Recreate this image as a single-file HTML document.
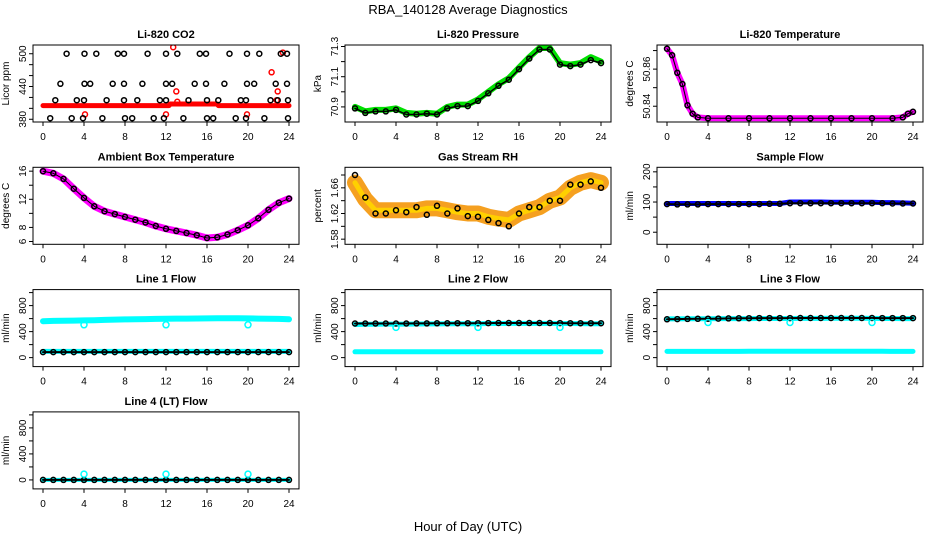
<!DOCTYPE html>
<html><head><meta charset="utf-8">
<style>
html,body{margin:0;padding:0;background:#fff;}
svg{display:block;font-family:"Liberation Sans",Arial,sans-serif;}
</style></head>
<body>
<svg id="chart" width="936" height="540" viewBox="0 0 936 540" xmlns="http://www.w3.org/2000/svg">
<rect x="0" y="0" width="936" height="540" fill="#fff"/>
<text x="468" y="14" font-size="13" text-anchor="middle">RBA_140128  Average Diagnostics</text>
<text x="468" y="531" font-size="13" text-anchor="middle">Hour of Day (UTC)</text>
</svg>
<script>
// ---------- data ----------
const hours = [0,1,2,3,4,5,6,7,8,9,10,11,12,13,14,15,16,17,18,19,20,21,22,23,24];
const xTicks = [0,4,8,12,16,20,24];
const xTickLabels = ["0","4","8","12","16","20","24"];

// CO2
const co2BlackHours = [2.3,4.05,5.2,7.3,7.9,10.2,12.0,13.1,15.3,15.9,18.2,19.9,21.1,23.2,23.8,
  1.7,4.05,4.6,6.8,7.9,9.7,12.0,12.6,14.8,15.9,17.7,19.9,20.6,22.7,23.8,
  1.2,3.3,4.0,6.2,7.9,9.2,11.4,12.0,14.2,16.0,17.1,19.3,19.8,22.2,22.9,23.9,
  0.7,2.8,3.9,5.8,8.0,8.7,10.8,11.8,13.7,16.0,16.6,18.8,19.8,21.6,23.9];
const co2BlackVals = [500,500,500,500,500,500,500,500,500,500,500,500,500,500,500,
  445,445,445,445,445,445,445,445,445,445,445,445,445,445,445,
  415,415,415,415,415,415,415,415,415,415,415,415,415,415,415,415,
  382,382,382,382,382,382,382,382,382,382,382,382,382,382,382];
const co2BandHours = [0,12.3,12.4,17,17.1,24];
const co2BandVals = [405,405,408,408,405,405];
const co2RedHours = [4.1,12.0,12.7,13.0,13.1,19.9,22.3,22.9,22.8,23.4];
const co2RedVals = [389,389,512,431,412,389,466,431,415,502];
const co2Ticks = [380,400,420,440,460,480,500];
const co2Labels = ["380","","","440","","","500"];

// Pressure
const presVals = [70.90,70.87,70.88,70.88,70.89,70.86,70.855,70.86,70.855,70.90,70.915,70.915,70.95,71.0,71.05,71.09,71.16,71.23,71.29,71.29,71.19,71.18,71.19,71.23,71.20];
const presBlack = [70.89,70.86,70.87,70.87,70.88,70.85,70.85,70.855,70.85,70.89,70.905,70.905,70.94,70.99,71.04,71.08,71.15,71.22,71.28,71.28,71.18,71.17,71.18,71.21,71.19];
const presTicks = [70.9,71.0,71.1,71.2,71.3];
const presLabels = ["70.9","","71.1","","71.3"];

// Li-820 temperature
const ltHours = [0,0.5,1,1.5,2,2.5,3,4,6,8,10,12,14,16,18,20,22,23,23.5,24];
const ltVals = [50.871,50.8675,50.858,50.852,50.8405,50.836,50.834,50.8335,50.8335,50.8335,50.8335,50.8335,50.8335,50.8335,50.8335,50.8335,50.8335,50.834,50.836,50.837];
const ltTicks = [50.84,50.85,50.86,50.87];
const ltLabels = ["50.84","","50.86",""];

// Ambient box temperature
const ambVals = [16.0,15.7,14.9,13.5,12.2,11.0,10.3,9.9,9.5,9.1,8.7,8.2,7.8,7.5,7.2,6.9,6.5,6.6,7.0,7.6,8.3,9.3,10.5,11.5,12.1];
const ambTicks = [6,8,10,12,14,16];
const ambLabels = ["6","8","","12","","16"];

// Gas stream RH
const rhVals = [1.668,1.642,1.625,1.625,1.625,1.625,1.625,1.628,1.628,1.625,1.622,1.62,1.62,1.615,1.612,1.61,1.62,1.625,1.63,1.64,1.645,1.66,1.668,1.672,1.668];
const rhBlack = [1.68,1.645,1.62,1.62,1.625,1.622,1.63,1.618,1.632,1.62,1.628,1.616,1.615,1.61,1.605,1.6,1.62,1.63,1.63,1.64,1.64,1.665,1.665,1.67,1.66];
const rhTicks = [1.58,1.60,1.62,1.64,1.66,1.68];
const rhLabels = ["1.58","","1.62","","1.66",""];

// Sample flow
const sfBlue = [95,95,95,95,95,95,95,95,95,95,95,95,100,100,100,100,99,99,99,99,99,98,98,97,96];
const sfBlack = [93,92,92,92,93,93,93,93,93,93,94,94,96,96,96,96,96,96,96,96,96,96,95,95,95];
const sfTicks = [0,50,100,150,200];
const sfLabels = ["0","","100","","200"];

// Line flows
const flowTicks = [0,200,400,600,800,1000];
const flowLabels = ["0","","400","","800",""];
const outlierHours = [4,12,20];
const l1High = [560,565,568,570,572,575,580,585,588,590,592,595,598,600,600,602,603,605,606,605,603,600,598,595,590];
const l1Low = [95,95,95,95,95,95,95,95,95,95,95,95,95,95,95,95,95,95,95,95,95,95,95,95,95];
const l1Black = [85,85,85,85,85,85,85,85,85,85,85,85,85,85,85,85,85,85,85,85,85,85,85,85,85];
const l1Out = [505,505,505];
const l2High = [510,512,514,515,515,516,517,518,518,520,520,522,522,524,525,526,526,527,527,526,525,524,523,522,520];
const l2Low = [90,90,90,90,90,90,90,90,90,90,90,90,90,90,90,90,90,90,90,90,90,90,90,90,90];
const l2Black = [525,525,525,525,525,525,526,527,528,528,529,530,530,531,532,533,533,533,532,532,531,530,530,530,530];
const l2Out = [465,465,465];
const l3High = [595,596,597,598,598,600,600,600,600,601,601,602,602,603,603,603,604,605,605,604,603,602,602,600,600];
const l3Low = [95,95,95,95,95,95,95,95,98,98,98,98,98,98,98,98,98,98,98,98,98,98,95,95,95];
const l3Black = [590,592,595,597,598,600,603,605,606,607,608,608,608,609,609,610,610,610,610,609,609,608,608,608,608];
const l3Out = [540,540,540];
const l4Cyan = [0,0,0,0,0,0,0,0,0,0,0,0,0,0,0,0,0,0,0,0,0,0,0,0,0];
const l4Black = [0,0,0,0,0,0,0,0,0,0,0,0,0,0,0,0,0,0,0,0,0,0,0,0,0];
const l4Out = [90,90,90];

// ---------- drawing ----------
const NS = "http://www.w3.org/2000/svg";
const svg = document.getElementById("chart");
let clipId = 0;
function mk(tag, attrs, parent){
  const e = document.createElementNS(NS, tag);
  for (const k in attrs) e.setAttribute(k, attrs[k]);
  parent.appendChild(e);
  return e;
}

function panel(col, row, key, title, ylab, domain, yTicks, yLabels, layers){
  const x0 = 33 + 312*col, x1 = x0 + 266;
  const y0 = 45 + 122.3*row, y1 = y0 + 77;
  const g = mk("g", {}, svg);
  
  
  const xs = h => x0 + 10 + h*246/24;
  const ys = v => y1 - (v - domain[0])/(domain[1]-domain[0])*(y1-y0);

  const t = mk("text", {x:(x0+x1)/2, y:y0-7, "font-size":11, "font-weight":"bold", "text-anchor":"middle"}, g);
  
  
  t.textContent = title;

  const yl = mk("text", {x:0, y:0, "font-size":10, "text-anchor":"middle", transform:`translate(${x0-24},${(y0+y1)/2}) rotate(-90)`}, g);
  
  
  yl.textContent = ylab;

  // clip
  clipId++;
  const cp = mk("clipPath", {id:"c"+clipId}, g);
  mk("rect", {x:x0, y:y0, width:x1-x0, height:y1-y0}, cp);
  const plot = mk("g", {"clip-path":`url(#c${clipId})`}, g);
  
  

  layers.forEach(L => {
    if (L.type === "band" || L.type === "line"){
      const pts = L.xs.map((h,i) => xs(h).toFixed(1)+","+ys(L.ys[i]).toFixed(1)).join(" ");
      const pl = mk("polyline", {points:pts, fill:"none", stroke:L.color, "stroke-width":L.width, "stroke-linejoin":"round", "stroke-linecap":"round"}, plot);
      
      
    }
    if (L.type === "pts" || L.type === "line"){
      L.xs.forEach((h,i) => {
        const c = mk("circle", {cx:xs(h).toFixed(1), cy:ys(L.ys[i]).toFixed(1), r:L.r||2.5, fill:"none", stroke:L.ptColor||L.color, "stroke-width":1.5}, plot);
        
        
      });
    }
  });

  const box = mk("rect", {x:x0, y:y0, width:x1-x0, height:y1-y0, fill:"none", stroke:"#000", "stroke-width":1}, g);
  
  

  // x axis
  xTicks.forEach((h,i) => {
    mk("line", {x1:xs(h), x2:xs(h), y1:y1, y2:y1+4, stroke:"#000"}, g);
    const lb = mk("text", {x:xs(h), y:y1+18, "font-size":10, "text-anchor":"middle"}, g);
    
    
    lb.textContent = xTickLabels[i];
  });
  // y axis
  yTicks.forEach((v,i) => {
    const y = ys(v);
    if (y < y0-0.5 || y > y1+0.5) return;
    mk("line", {x1:x0-4, x2:x0, y1:y, y2:y, stroke:"#000"}, g);
    if (yLabels[i]){
      const lb = mk("text", {x:0, y:0, "font-size":10, "text-anchor":"middle", transform:`translate(${x0-7},${y}) rotate(-90)`}, g);
      
      
      lb.textContent = yLabels[i];
    }
  });
}

panel(0,0,"co2","Li-820 CO2","Licor ppm",[375,516],co2Ticks,co2Labels,[
  {type:"band", name:"co2-licor-band", xs:co2BandHours, ys:co2BandVals, color:"#ff0000", width:5},
  {type:"pts", name:"co2-red-outlier", xs:co2RedHours, ys:co2RedVals, color:"#ff0000"},
  {type:"pts", name:"co2-black", xs:co2BlackHours, ys:co2BlackVals, color:"#000"}
]);
panel(1,0,"pressure","Li-820 Pressure","kPa",[70.80,71.31],presTicks,presLabels,[
  {type:"band", name:"pressure-band", xs:hours, ys:presVals, color:"#00e000", width:6},
  {type:"line", name:"pressure-black", xs:hours, ys:presBlack, color:"#000", width:1.5}
]);
panel(2,0,"li820-temp","Li-820 Temperature","degrees C",[50.8315,50.873],ltTicks,ltLabels,[
  {type:"band", name:"li820-temp-band", xs:ltHours, ys:ltVals, color:"#ff00ff", width:6},
  {type:"line", name:"li820-temp-black", xs:ltHours, ys:ltVals, color:"#000", width:1}
]);
panel(0,1,"ambient-temp","Ambient Box Temperature","degrees C",[5.6,16.55],ambTicks,ambLabels,[
  {type:"band", name:"ambient-temp-band", xs:hours, ys:ambVals, color:"#ff00ff", width:7},
  {type:"line", name:"ambient-temp-black", xs:hours, ys:ambVals, color:"#000", width:1}
]);
panel(1,1,"gas-rh","Gas Stream RH","percent",[1.572,1.692],rhTicks,rhLabels,[
  {type:"band", name:"gas-rh-band", xs:hours, ys:rhVals, color:"#f5a020", width:16},
  {type:"band", name:"gas-rh-band-core", xs:hours, ys:rhVals, color:"#ffd000", width:5},
  {type:"pts", name:"gas-rh-black", xs:hours, ys:rhBlack, color:"#000"}
]);
panel(2,1,"sample-flow","Sample Flow","ml/min",[-40,215],sfTicks,sfLabels,[
  {type:"band", name:"sample-flow-band", xs:hours, ys:sfBlue, color:"#0000ff", width:5},
  {type:"line", name:"sample-flow-black", xs:hours, ys:sfBlack, color:"#000", width:2}
]);
panel(0,2,"line1-flow","Line 1 Flow","ml/min",[-138,1046],flowTicks,flowLabels,[
  {type:"band", name:"line1-high-band", xs:hours, ys:l1High, color:"#00ffff", width:6},
  {type:"band", name:"line1-low-band", xs:hours, ys:l1Low, color:"#00ffff", width:5},
  {type:"line", name:"line1-black", xs:hours, ys:l1Black, color:"#000", width:2},
  {type:"pts", name:"line1-outlier", xs:outlierHours, ys:l1Out, color:"#00ffff", r:3}
]);
panel(1,2,"line2-flow","Line 2 Flow","ml/min",[-138,1046],flowTicks,flowLabels,[
  {type:"band", name:"line2-high-band", xs:hours, ys:l2High, color:"#00ffff", width:5},
  {type:"band", name:"line2-low-band", xs:hours, ys:l2Low, color:"#00ffff", width:5},
  {type:"line", name:"line2-black", xs:hours, ys:l2Black, color:"#000", width:2},
  {type:"pts", name:"line2-outlier", xs:outlierHours, ys:l2Out, color:"#00ffff", r:3}
]);
panel(2,2,"line3-flow","Line 3 Flow","ml/min",[-138,1046],flowTicks,flowLabels,[
  {type:"band", name:"line3-high-band", xs:hours, ys:l3High, color:"#00ffff", width:5},
  {type:"band", name:"line3-low-band", xs:hours, ys:l3Low, color:"#00ffff", width:5},
  {type:"line", name:"line3-black", xs:hours, ys:l3Black, color:"#000", width:2},
  {type:"pts", name:"line3-outlier", xs:outlierHours, ys:l3Out, color:"#00ffff", r:3}
]);
panel(0,3,"line4-flow","Line 4 (LT) Flow","ml/min",[-138,1046],flowTicks,flowLabels,[
  {type:"band", name:"line4-cyan-band", xs:hours, ys:l4Cyan, color:"#00ffff", width:4},
  {type:"line", name:"line4-black", xs:hours, ys:l4Black, color:"#000", width:2},
  {type:"pts", name:"line4-outlier", xs:outlierHours, ys:l4Out, color:"#00ffff", r:3}
]);
</script>
</body></html>
